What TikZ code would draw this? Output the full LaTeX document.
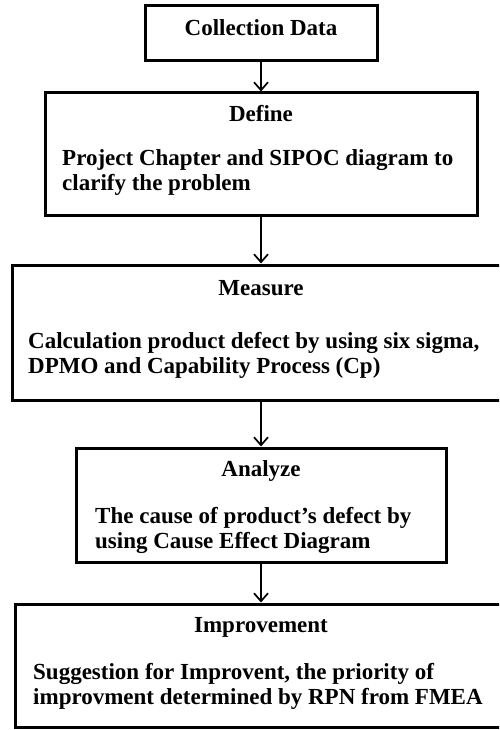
\documentclass[tikz,border=0pt]{standalone}
\usepackage{fontspec}
\setmainfont{Liberation Serif}
\usetikzlibrary{arrows.meta}
\begin{document}
\begin{tikzpicture}[x=1pt, y=-1pt,
	stepbox/.style={draw, line width=3pt, inner sep=0pt},
	txt/.style={font=\bfseries\fontsize{23}{24.5}\selectfont, inner sep=0pt, align=left},
	arr/.style={-{Straight Barb[length=8pt, width=14pt]}, line width=1.7pt}]
	\useasboundingbox (0, 0) rectangle (499, 730);
	\clip (0, 0) rectangle (499, 730);

	\node[stepbox, minimum width=232, minimum height=55] (collect) at (261, 33.5) {};
	\node[stepbox, minimum width=432, minimum height=122] (define) at (261, 154) {};
	\node[stepbox, minimum width=498, minimum height=135] (measure) at (261, 332.5) {};
	\node[stepbox, minimum width=370, minimum height=114] (analyze) at (261, 505) {};
	\node[stepbox, minimum width=492, minimum height=123] (improve) at (261, 665.5) {};

	\node[txt, anchor=base] (collecttxt) at (261, 36) {Collection Data};

	\node[txt, anchor=base] (definehead) at (261, 122) {Define};
	\node[txt, anchor=base west] (definetxt) at (62, 190)
		{Project Chapter and SIPOC diagram to\\clarify the problem};

	\node[txt, anchor=base] (measurehead) at (261, 295) {Measure};
	\node[txt, anchor=base west] (measuretxt) at (28, 373)
		{Calculation product defect by using six sigma,\\DPMO and Capability Process (Cp)};

	\node[txt, anchor=base] (analyzehead) at (261, 476) {Analyze};
	\node[txt, anchor=base west] (analyzetxt) at (95, 548)
		{The cause of product’s defect by\\using Cause Effect Diagram};

	\node[txt, anchor=base] (improvehead) at (261, 632) {Improvement};
	\node[txt, anchor=base west] (improvetxt) at (33, 704)
		{Suggestion for Improvent, the priority of\\improvment determined by RPN from FMEA};

	\draw[arr] (collect.south) -- (define.north);
	\draw[arr] (define.south) -- (measure.north);
	\draw[arr] (measure.south) -- (analyze.north);
	\draw[arr] (analyze.south) -- (improve.north);
\end{tikzpicture}
\end{document}
